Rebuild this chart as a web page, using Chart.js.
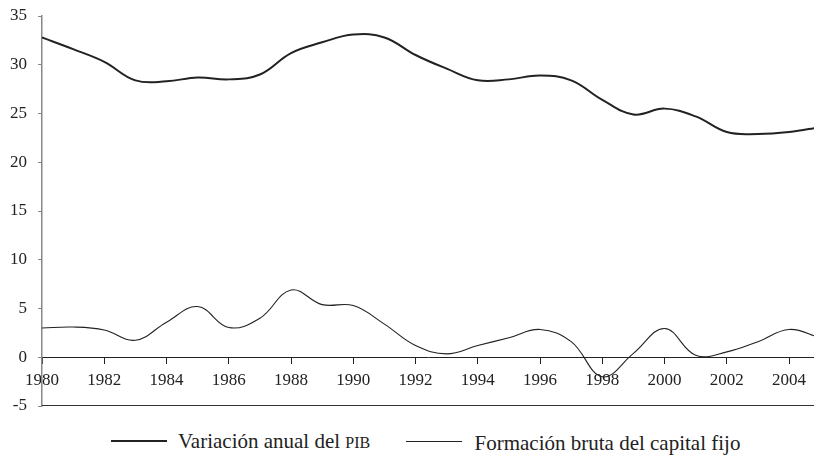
<!DOCTYPE html>
<html>
<head>
<meta charset="utf-8">
<script src="https://cdn.jsdelivr.net/npm/chart.js@4"></script>
<style>
  body { margin: 0; background: #fff; }
  #wrap { position: relative; width: 814px; height: 464px; overflow: hidden; font-family: "Liberation Serif", "Times New Roman", serif; }
  #box { position: absolute; left: 0; top: 0; width: 814px; height: 421px; }
  #legend { position: absolute; left: 111px; top: 424px; font-size: 21px; line-height: 24px; color: #222; white-space: nowrap; }
  .item { display: inline-flex; align-items: center; }
  .sw { display: inline-block; width: 56px; background: #222; margin-right: 11px; position: relative; top: -1px; }
  .sc { font-size: 16px; }
</style>
</head>
<body>
<div id="wrap">
  <div id="box"><canvas id="chart-pib"></canvas></div>
  <div id="legend">
    <span class="item"><span class="sw" style="height:2px"></span><span>Variación anual del <span class="sc">PIB</span></span></span>
    <span class="item" style="margin-left:30px"><span class="sw" style="height:1px;margin-right:13px"></span><span>Formación bruta del capital fijo</span></span>
  </div>
</div>
<script>
// años y valores
const years = [1980,1981,1982,1983,1984,1985,1986,1987,1988,1989,1990,1991,1992,1993,1994,1995,1996,1997,1998,1999,2000,2001,2002,2003,2004,2005];
const pibValues = [32.8,31.6,30.3,28.4,28.3,28.7,28.5,29.0,31.2,32.3,33.1,32.8,31.0,29.6,28.4,28.5,28.9,28.4,26.4,24.9,25.5,24.7,23.1,22.9,23.1,23.6];
const fbkfValues = [3.0,3.1,2.8,1.75,3.6,5.2,3.05,4.0,6.9,5.4,5.3,3.4,1.2,0.35,1.2,2.0,2.85,1.6,-2.0,0.4,2.95,0.2,0.55,1.6,2.85,2.0];
const yTicks = [-5,0,5,10,15,20,25,30,35];
const serif = '"Liberation Serif", "Times New Roman", serif';

function toPoints(vals){
    return years.map((y, i) => ({x: y, y: vals[i]}));
}

// linea inferior del area del grafico (en -5)
const bottomLine = {
    id: 'bottomLine',
    afterDraw(chart){
        const ctx = chart.ctx;
        const yPix = chart.scales.y.getPixelForValue(-5);
        ctx.save();
        ctx.strokeStyle = '#333';
        ctx.lineWidth = 1;
        ctx.beginPath();
        ctx.moveTo(chart.chartArea.left, Math.round(yPix) - 0.5);
        ctx.lineTo(chart.chartArea.right, Math.round(yPix) - 0.5);
        ctx.stroke();
        ctx.restore();
    }
};

const ctx = document.getElementById('chart-pib');
new Chart(ctx, {
    type: 'line',
    data: {
        datasets: [{
            label: 'Variación anual del PIB',
            data: toPoints(pibValues),
            borderColor: '#222',
            borderWidth: 2,
            pointRadius: 0,
            tension: 0.4
        }, {
            label: 'Formación bruta del capital fijo',
            data: toPoints(fbkfValues),
            borderColor: '#222',
            borderWidth: 1.1,
            pointRadius: 0,
            tension: 0.4
        }]
    },
    options: {
        responsive: true,
        maintainAspectRatio: false,
        animation: false,
        layout: { padding: { top: 16, right: 0, bottom: 15, left: 0 } },
        plugins: { legend: { display: false }, tooltip: { enabled: false } },
        scales: {
            x: {
                type: 'linear',
                position: { y: 0 },
                min: 1980,
                max: 2004.8,
                afterFit: (scale) => { scale.height = 0; },
                border: { color: '#222', width: 1 },
                grid: { drawOnChartArea: false, drawTicks: true, tickLength: 6, color: '#222' },
                ticks: {
                    stepSize: 2,
                    includeBounds: false,
                    maxRotation: 0,
                    autoSkip: false,
                    padding: 7,
                    color: '#222',
                    font: { family: serif, size: 17 },
                    callback: (v) => String(v)
                }
            },
            y: {
                min: -5,
                max: 35,
                afterFit: (scale) => {
                    scale.width = 42;
                    scale.paddingTop = 0;
                    scale.paddingBottom = 0;
                },
                afterBuildTicks: (scale) => { scale.ticks = yTicks.map((v) => ({value: v})); },
                border: { color: '#888', width: 1.5 },
                grid: { drawOnChartArea: false, drawTicks: true, tickLength: 4, color: '#888' },
                ticks: {
                    padding: 11,
                    color: '#222',
                    font: { family: serif, size: 17 }
                }
            }
        }
    },
    plugins: [bottomLine]
});
</script>
</body>
</html>
